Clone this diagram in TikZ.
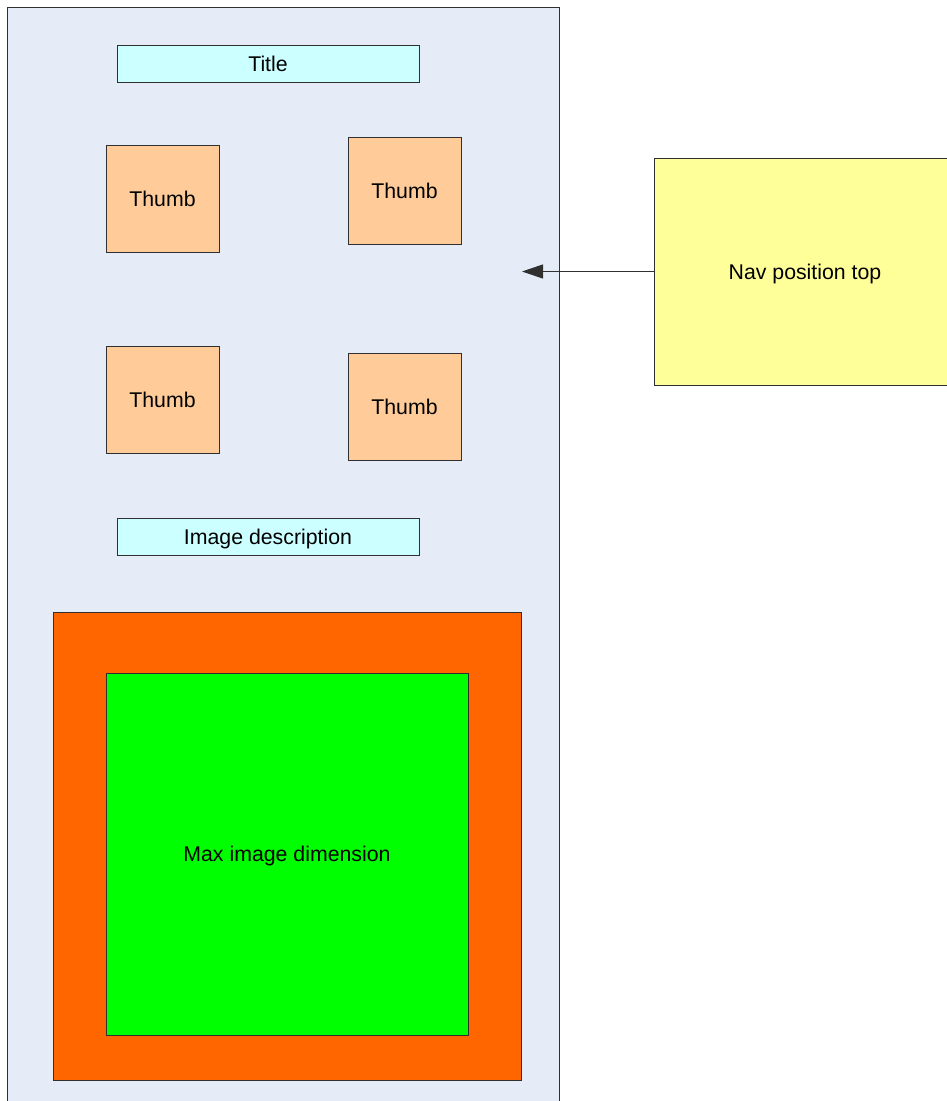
\documentclass[tikz,border=0pt]{standalone}
\usepackage{fontspec}
\setmainfont{Liberation Sans}
\usetikzlibrary{arrows.meta}
\definecolor{panelbg}{HTML}{E6ECF7}
\definecolor{cyanbox}{HTML}{CCFFFF}
\definecolor{thumbbg}{HTML}{FFCC99}
\definecolor{orangebg}{HTML}{FF6600}
\definecolor{greenbg}{HTML}{00FF00}
\definecolor{yellowbg}{HTML}{FFFF99}
\definecolor{edge}{HTML}{303030}
\begin{document}
\begin{tikzpicture}[x=1pt,y=-1pt,
  every node/.style={inner sep=0pt, outer sep=0pt, font=\fontsize{21.3}{25}\selectfont, text height=15.2pt, text depth=0pt},
  box/.style={draw=edge, line width=1pt, rectangle},
  labelbox/.style={box, fill=cyanbox, minimum width=302pt, minimum height=37pt},
  thumbbox/.style={box, fill=thumbbg, minimum width=113pt, minimum height=107pt}]
\useasboundingbox (0,0) rectangle (946,1101);
\fill[white] (0,0) rectangle (946,1101);
\node[box, fill=panelbg, minimum width=551.5pt, minimum height=1120pt] (panel) at (283.25,567.5) {};
\node[labelbox] (title) at (268,63.5) {Title};
\node[thumbbox] (t1) at (162.5,198.5) {Thumb};
\node[thumbbox] (t2) at (404.5,191) {Thumb};
\node[thumbbox] (t3) at (162.5,399.5) {Thumb};
\node[thumbbox] (t4) at (404.5,407) {Thumb};
\node[labelbox] (desc) at (268,536.5) {Image description};
\node[box, fill=orangebg, minimum width=468pt, minimum height=468pt] (outer) at (287,846) {};
\node[box, fill=greenbg, minimum width=362pt, minimum height=362pt] (img) at (287,854) {Max image dimension};
\node[box, fill=yellowbg, minimum width=302pt, minimum height=227pt] (nav) at (805,271.5) {Nav position top};
\coordinate (navtarget) at (522,271.5);
\draw[edge, line width=1pt, -{Triangle[length=21pt,width=14pt]}] (nav.west) -- (navtarget);
\end{tikzpicture}
\end{document}
